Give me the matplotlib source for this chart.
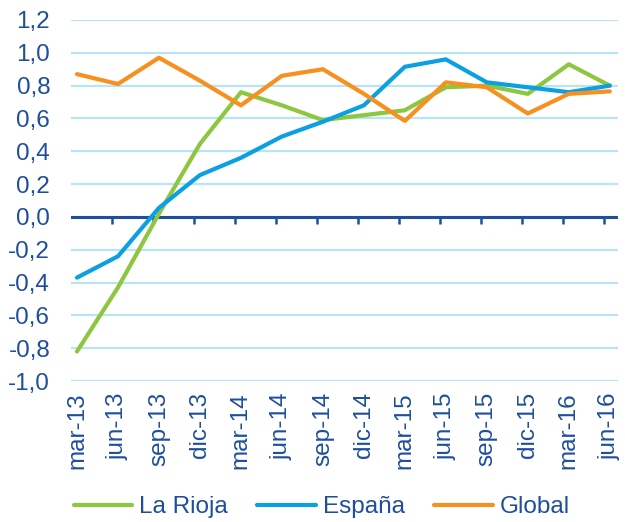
import matplotlib.pyplot as plt

plt.rcParams["font.family"] = ["Liberation Sans", "DejaVu Sans"]

# データ
fechas = ["mar-13", "jun-13", "sep-13", "dic-13", "mar-14", "jun-14", "sep-14",
          "dic-14", "mar-15", "jun-15", "sep-15", "dic-15", "mar-16", "jun-16"]
la_rioja = [-0.82, -0.43, 0.02, 0.445, 0.76, 0.68, 0.59,
            0.62, 0.65, 0.79, 0.80, 0.75, 0.93, 0.80]
espana = [-0.37, -0.24, 0.055, 0.255, 0.36, 0.49, 0.58,
          0.68, 0.915, 0.96, 0.82, 0.79, 0.76, 0.80]
global_ = [0.87, 0.81, 0.97, 0.83, 0.68, 0.86, 0.90,
           0.75, 0.585, 0.82, 0.79, 0.63, 0.75, 0.765]
yticks = [-1.0, -0.8, -0.6, -0.4, -0.2, 0.0, 0.2, 0.4, 0.6, 0.8, 1.0, 1.2]

text_color = "#1f4e9c"
grid_color = "#b8e4f6"
fs = 17.5

fig = plt.figure(figsize=(6.25, 5.22), dpi=100)
ax = fig.add_axes([0.1136, 0.2701, 0.8752, 0.6916])

x = list(range(len(fechas)))
ax.plot(x, la_rioja, color="#8dc63f", lw=3, label="La Rioja", solid_capstyle="round", zorder=3)
ax.plot(x, espana, color="#0aa0e2", lw=3, label="España", solid_capstyle="round", zorder=4)
ax.plot(x, global_, color="#f7901e", lw=3, label="Global", solid_capstyle="round", zorder=5)

ax.set_xlim(-0.146, 13.2)
ax.set_ylim(-1.0, 1.2)

# グリッド
ax.set_yticks(yticks)
ax.set_yticklabels([f"{v:.1f}".replace(".", ",") for v in yticks])
ax.yaxis.grid(True, color=grid_color, lw=1.6)
ax.set_axisbelow(True)
ax.axhline(0, color=text_color, lw=2.2, zorder=2)

for s in ax.spines.values():
    s.set_visible(False)

ax.set_xticks(x)
ax.set_xticklabels(fechas, rotation=90)
ax.tick_params(axis="x", length=0, pad=8, labelsize=fs, labelcolor=text_color)
ax.tick_params(axis="y", length=0, pad=15, labelsize=fs, labelcolor=text_color)

# 0の軸の目盛り
sec = ax.secondary_xaxis(1.0 / 2.2)
sec.spines["bottom"].set_visible(False)
sec.set_xticks([i - 0.15 for i in x])
sec.set_xticklabels([])
sec.tick_params(axis="x", direction="out", length=5, width=1.8, color=text_color)

# 凡例（下端に配置）
leg = fig.legend(loc="center", bbox_to_anchor=(0.515, 0.028), ncol=3, frameon=False,
                 fontsize=fs, handlelength=2.4, handletextpad=0.3, columnspacing=1.2,
                 borderaxespad=0, borderpad=0)
for t in leg.get_texts():
    t.set_color(text_color)
for h in leg.get_lines():
    h.set_linewidth(3)

fig.savefig("out.png", dpi=100)
